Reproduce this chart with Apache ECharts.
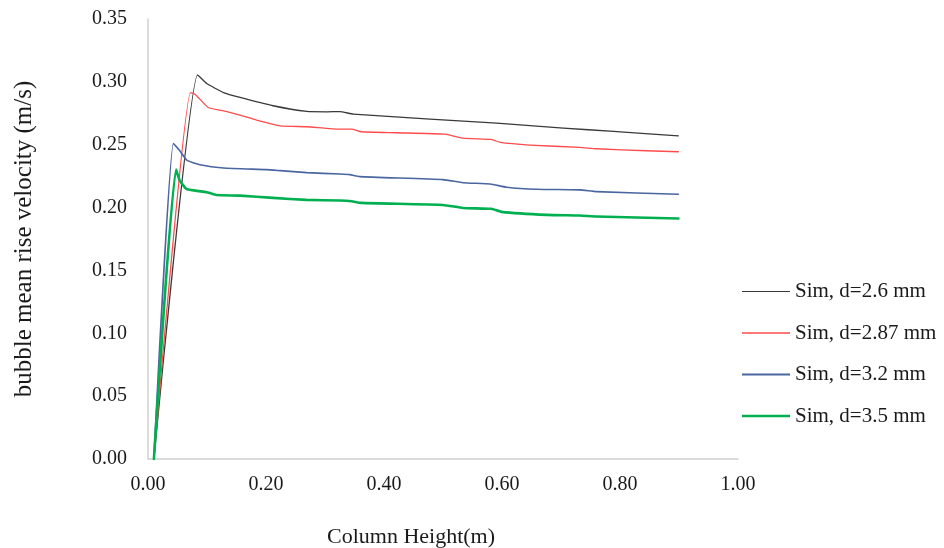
<!DOCTYPE html>
<html>
<head>
<meta charset="utf-8">
<script src="https://cdn.jsdelivr.net/npm/echarts@6/dist/echarts.min.js"></script>
<style>
  html, body { margin: 0; padding: 0; background: #fff; }
  #chart { width: 944px; height: 548px; }
</style>
</head>
<body>
<div id="chart"></div>
<script>
// Bubble mean rise velocity along the column, one curve per bubble diameter
const seriesNames = ['Sim, d=2.6 mm', 'Sim, d=2.87 mm', 'Sim, d=3.2 mm', 'Sim, d=3.5 mm'];

const heightD26 = [0.01, 0.084, 0.0995, 0.128, 0.156, 0.212, 0.269, 0.303, 0.325, 0.348, 0.478, 0.591, 0.704, 0.789, 0.899];
const velD26    = [0, 0.3056, 0.2987, 0.2915, 0.2876, 0.281, 0.2765, 0.2762, 0.2764, 0.2743, 0.2704, 0.2672, 0.2632, 0.2606, 0.2571];

const heightD287 = [0.01, 0.072, 0.0797, 0.102, 0.128, 0.156, 0.184, 0.224, 0.269, 0.325, 0.345, 0.362, 0.421, 0.503, 0.534, 0.582, 0.597, 0.647, 0.732, 0.760, 0.845, 0.899];
const velD287    = [0, 0.2915, 0.2902, 0.2796, 0.277, 0.2735, 0.2696, 0.265, 0.2643, 0.2624, 0.2624, 0.2603, 0.2595, 0.2584, 0.2552, 0.2542, 0.2518, 0.2497, 0.2479, 0.2468, 0.2452, 0.2444];

const heightD32 = [0.01, 0.043, 0.054, 0.0656, 0.088, 0.128, 0.201, 0.224, 0.269, 0.325, 0.342, 0.359, 0.5, 0.534, 0.58, 0.608, 0.659, 0.732, 0.76, 0.899];
const velD32    = [0, 0.251, 0.2452, 0.2378, 0.2341, 0.2315, 0.2302, 0.2294, 0.2278, 0.2267, 0.2262, 0.2246, 0.2222, 0.2198, 0.2188, 0.2162, 0.2146, 0.2141, 0.2127, 0.2106];

const heightD35 = [0.01, 0.0475, 0.054, 0.0656, 0.0995, 0.116, 0.156, 0.212, 0.269, 0.325, 0.345, 0.362, 0.5, 0.534, 0.582, 0.599, 0.676, 0.732, 0.76, 0.899];
const velD35    = [0, 0.2302, 0.2214, 0.2148, 0.2122, 0.210, 0.2095, 0.2077, 0.2061, 0.2056, 0.205, 0.2037, 0.2021, 0.1997, 0.199, 0.1966, 0.1942, 0.1937, 0.1929, 0.1913];

const heights = [heightD26, heightD287, heightD32, heightD35];
const velocities = [velD26, velD287, velD32, velD35];
const colors = ['#3a3a3a', '#ff4b4b', '#4a66a0', '#00b050'];
const widths = [1.3, 1.3, 1.6, 2.6];
const legendThickness = [1.2, 1.4, 1.9, 2.4];

const FONT = '"Liberation Serif", "Times New Roman", serif';

const chart = echarts.init(document.getElementById('chart'), null, { renderer: 'canvas' });

const series = seriesNames.map((name, i) => ({
  name: name,
  type: 'line',
  data: heights[i].map((h, k) => [h, velocities[i][k]]),
  symbol: 'none',
  showSymbol: false,
  smooth: 0.15,
  lineStyle: { color: colors[i], width: widths[i], join: 'round', cap: 'round' },
  itemStyle: { color: colors[i] },
  animation: false
}));

// flat bar icons so each legend key reads as a plain line segment
const legendData = seriesNames.map((n, i) => ({
  name: n,
  icon: 'path://M0,0 L48,0 L48,' + legendThickness[i] + ' L0,' + legendThickness[i] + ' Z',
  itemStyle: { color: colors[i] }
}));

chart.setOption({
  backgroundColor: '#ffffff',
  animation: false,
  grid: { left: 148, right: 206, top: 19, bottom: 89 },
  legend: {
    orient: 'vertical',
    left: 737,
    top: 276,
    itemWidth: 48,
    itemHeight: 14,
    itemGap: 20.5,
    textStyle: { fontFamily: FONT, fontSize: 21, color: '#1a1a1a' },
    data: legendData
  },
  xAxis: {
    type: 'value',
    min: 0,
    max: 1,
    interval: 0.2,
    axisLine: { show: true, lineStyle: { color: '#d0d0d0', width: 1.5 } },
    axisTick: { show: false },
    splitLine: { show: false },
    axisLabel: {
      margin: 16,
      fontFamily: FONT,
      fontSize: 20,
      color: '#1a1a1a',
      formatter: v => v.toFixed(2)
    }
  },
  yAxis: {
    type: 'value',
    min: 0,
    max: 0.35,
    interval: 0.05,
    name: 'bubble mean rise velocity (m/s)',
    nameLocation: 'middle',
    nameGap: 111,
    nameTextStyle: { fontFamily: FONT, fontSize: 25, color: '#1a1a1a' },
    axisLine: { show: true, lineStyle: { color: '#d0d0d0', width: 1.5 } },
    axisTick: { show: false },
    splitLine: { show: false },
    axisLabel: {
      margin: 21,
      fontFamily: FONT,
      fontSize: 20,
      color: '#1a1a1a',
      formatter: v => v.toFixed(2)
    }
  },
  graphic: [{
    type: 'text',
    x: 411,
    y: 537,
    style: {
      text: 'Column Height(m)',
      font: '22px ' + FONT,
      fill: '#1a1a1a',
      textAlign: 'center',
      textVerticalAlign: 'middle'
    }
  }],
  series: series
});
</script>
</body>
</html>
